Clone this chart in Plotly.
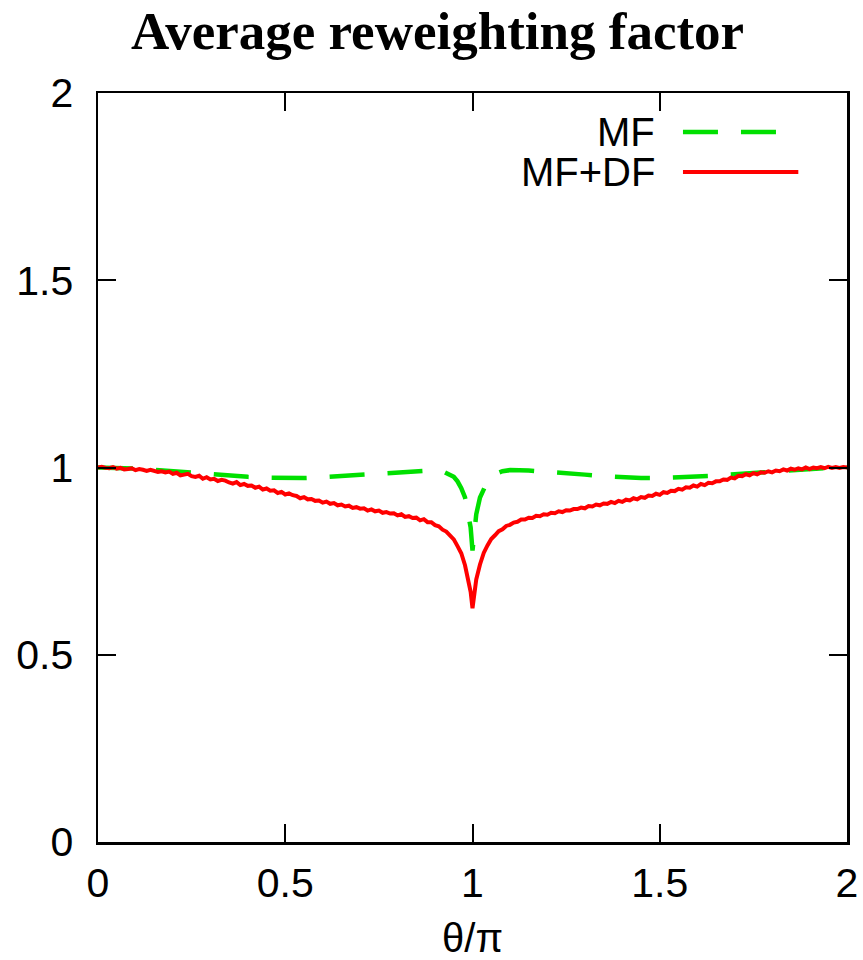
import plotly.graph_objects as go

# ---------------- data ----------------
theta_red = [
    0.00, 0.01, 0.02, 0.03, 0.04, 0.05, 0.06, 0.07, 0.08, 0.09,
    0.10, 0.11, 0.12, 0.13, 0.14, 0.15, 0.16, 0.17, 0.18, 0.19,
    0.20, 0.21, 0.22, 0.23, 0.24, 0.25, 0.26, 0.27, 0.28, 0.29,
    0.30, 0.31, 0.32, 0.33, 0.34, 0.35, 0.36, 0.37, 0.38, 0.39,
    0.40, 0.41, 0.42, 0.43, 0.44, 0.45, 0.46, 0.47, 0.48, 0.49,
    0.50, 0.51, 0.52, 0.53, 0.54, 0.55, 0.56, 0.57, 0.58, 0.59,
    0.60, 0.61, 0.62, 0.63, 0.64, 0.65, 0.66, 0.67, 0.68, 0.69,
    0.70, 0.71, 0.72, 0.73, 0.74, 0.75, 0.76, 0.77, 0.78, 0.79,
    0.80, 0.81, 0.82, 0.83, 0.84, 0.85, 0.86, 0.87, 0.88, 0.89,
    0.90, 0.91, 0.92, 0.93, 0.94, 0.95, 0.96, 0.97, 0.98, 0.99,
    0.995, 1.00, 1.005,
    1.01, 1.02, 1.03, 1.04, 1.05, 1.06, 1.07, 1.08, 1.09, 1.10,
    1.11, 1.12, 1.13, 1.14, 1.15, 1.16, 1.17, 1.18, 1.19, 1.20,
    1.21, 1.22, 1.23, 1.24, 1.25, 1.26, 1.27, 1.28, 1.29, 1.30,
    1.31, 1.32, 1.33, 1.34, 1.35, 1.36, 1.37, 1.38, 1.39, 1.40,
    1.41, 1.42, 1.43, 1.44, 1.45, 1.46, 1.47, 1.48, 1.49, 1.50,
    1.51, 1.52, 1.53, 1.54, 1.55, 1.56, 1.57, 1.58, 1.59, 1.60,
    1.61, 1.62, 1.63, 1.64, 1.65, 1.66, 1.67, 1.68, 1.69, 1.70,
    1.71, 1.72, 1.73, 1.74, 1.75, 1.76, 1.77, 1.78, 1.79, 1.80,
    1.81, 1.82, 1.83, 1.84, 1.85, 1.86, 1.87, 1.88, 1.89, 1.90,
    1.91, 1.92, 1.93, 1.94, 1.95, 1.96, 1.97, 1.98, 1.99, 2.00,
]
mfdf_values = [
    1.000, 1.002, 0.999, 0.998, 1.001, 0.997, 0.999, 0.995, 0.996, 0.998,
    0.993, 0.996, 0.994, 0.991, 0.994, 0.992, 0.988, 0.990, 0.987, 0.989,
    0.983, 0.986, 0.979, 0.981, 0.983, 0.977, 0.975, 0.978, 0.970, 0.974,
    0.968, 0.970, 0.964, 0.967, 0.965, 0.960, 0.957, 0.961, 0.953, 0.956,
    0.951, 0.952, 0.946, 0.949, 0.941, 0.944, 0.938, 0.939, 0.932, 0.935,
    0.928, 0.931, 0.926, 0.924, 0.918, 0.921, 0.915, 0.916, 0.911, 0.912,
    0.906, 0.909, 0.903, 0.905, 0.899, 0.901, 0.896, 0.898, 0.892, 0.894,
    0.890, 0.891, 0.885, 0.888, 0.883, 0.885, 0.879, 0.881, 0.877, 0.878,
    0.872, 0.875, 0.868, 0.870, 0.865, 0.866, 0.859, 0.862, 0.854, 0.854,
    0.846, 0.843, 0.834, 0.829, 0.817, 0.808, 0.790, 0.771, 0.739, 0.698,
    0.668, 0.624, 0.670,
    0.701, 0.741, 0.772, 0.792, 0.809, 0.819, 0.830, 0.835, 0.844, 0.847,
    0.853, 0.855, 0.861, 0.861, 0.866, 0.865, 0.871, 0.870, 0.875, 0.874,
    0.879, 0.878, 0.883, 0.881, 0.886, 0.885, 0.889, 0.889, 0.893, 0.891,
    0.897, 0.896, 0.901, 0.899, 0.904, 0.903, 0.908, 0.905, 0.911, 0.908,
    0.914, 0.912, 0.918, 0.915, 0.921, 0.919, 0.925, 0.924, 0.930, 0.927,
    0.934, 0.932, 0.938, 0.937, 0.943, 0.941, 0.947, 0.946, 0.952, 0.949,
    0.956, 0.953, 0.959, 0.958, 0.963, 0.963, 0.968, 0.967, 0.973, 0.971,
    0.978, 0.977, 0.982, 0.979, 0.985, 0.982, 0.987, 0.986, 0.990, 0.987,
    0.992, 0.990, 0.995, 0.992, 0.997, 0.994, 0.998, 0.995, 1.000, 0.996,
    1.000, 0.998, 1.001, 0.998, 1.002, 0.999, 1.001, 0.999, 1.001, 1.000,
]

theta_green = [
    0.00, 0.05, 0.10, 0.15, 0.20, 0.25, 0.30, 0.35, 0.40, 0.45,
    0.50, 0.55, 0.60, 0.65, 0.70, 0.75, 0.80, 0.85, 0.90, 0.92,
    0.94, 0.95, 0.96, 0.97, 0.98, 0.99, 0.995, 1.00, 1.005, 1.01,
    1.02, 1.03, 1.04, 1.05, 1.06, 1.08, 1.10, 1.15, 1.20, 1.25,
    1.30, 1.35, 1.40, 1.45, 1.50, 1.55, 1.60, 1.65, 1.70, 1.75,
    1.80, 1.85, 1.90, 1.95, 2.00,
]
mf_values = [
    1.000, 0.999, 0.997, 0.994, 0.990, 0.986, 0.982, 0.978, 0.975, 0.973,
    0.972, 0.972, 0.974, 0.977, 0.981, 0.985, 0.989, 0.992, 0.993, 0.990,
    0.982, 0.975, 0.963, 0.945, 0.920, 0.875, 0.840, 0.778, 0.840, 0.875,
    0.920, 0.945, 0.963, 0.975, 0.982, 0.990, 0.993, 0.992, 0.989, 0.985,
    0.981, 0.977, 0.974, 0.972, 0.972, 0.973, 0.975, 0.978, 0.982, 0.986,
    0.990, 0.994, 0.997, 0.999, 1.000,
]

x_ticks = [0, 0.5, 1, 1.5, 2]
x_tick_labels = ["0", "0.5", "1", "1.5", "2"]
y_ticks = [0, 0.5, 1, 1.5, 2]
y_tick_labels = ["0", "0.5", "1", "1.5", "2"]

series_names = ["MF", "MF+DF"]
title_text = "Average reweighting factor"
x_title = "θ/π"

# ---------------- figure ----------------
GREEN = "#00e000"
RED = "#ff0000"
DASH = "35px,23px"
SANS = "Liberation Sans, Arial, sans-serif"
FIG_W, FIG_H = 863, 960

fig = go.Figure()
fig.add_trace(go.Scatter(x=theta_green, y=mf_values, mode="lines", name=series_names[0],
                         line=dict(color=GREEN, width=4.5, dash=DASH), showlegend=False))
fig.add_trace(go.Scatter(x=theta_red, y=mfdf_values, mode="lines", name=series_names[1],
                         line=dict(color=RED, width=4), showlegend=False))

axis_common = dict(
    range=[0, 2], showgrid=False, zeroline=False, automargin=False,
    showline=True, linecolor="black", linewidth=2.5, mirror="ticks",
    ticks="inside", ticklen=18, tickwidth=2, tickcolor="black",
    tickfont=dict(family=SANS, size=41, color="black"),
)
fig.update_xaxes(**axis_common, tickvals=x_ticks, ticktext=x_tick_labels,
                 ticklabelstandoff=3,
                 title=dict(text=x_title, font=dict(family=SANS, size=40, color="black"), standoff=23))
fig.update_yaxes(**axis_common, tickvals=y_ticks, ticktext=y_tick_labels,
                 ticklabelstandoff=14)

# manual legend (gnuplot style: text right-aligned, sample at right)
leg_text_x = 0.746
leg_line_x0, leg_line_x1 = 0.781, 0.935
leg_rows = [0.948, 0.8945]
styles = [dict(color=GREEN, width=4.5, dash=DASH), dict(color=RED, width=4)]
for name, yy, st in zip(series_names, leg_rows, styles):
    fig.add_annotation(x=leg_text_x, y=yy, xref="paper", yref="paper", text=name,
                       showarrow=False, xanchor="right", yanchor="middle",
                       font=dict(family=SANS, size=40, color="black"))
    fig.add_shape(type="line", xref="paper", yref="paper", x0=leg_line_x0, x1=leg_line_x1,
                  y0=yy, y1=yy, line=st)

fig.update_layout(
    width=FIG_W, height=FIG_H,
    margin=dict(l=98, r=16, t=93, b=118, autoexpand=False),
    paper_bgcolor="white", plot_bgcolor="white",
    title=dict(text="<b>" + title_text + "</b>", x=437.5 / FIG_W, xanchor="center", xref="container",
               y=1 - 30 / FIG_H, yanchor="middle", yref="container", automargin=False,
               font=dict(family="Liberation Serif, Times New Roman, serif", size=53, color="black")),
    showlegend=False,
    hovermode=False,
)

# remove the browser's default 8px body margin so the figure sits at the page origin
fig.write_html("out.html", config={"displayModeBar": False, "staticPlot": True},
               post_script="document.body.style.margin='0';")
